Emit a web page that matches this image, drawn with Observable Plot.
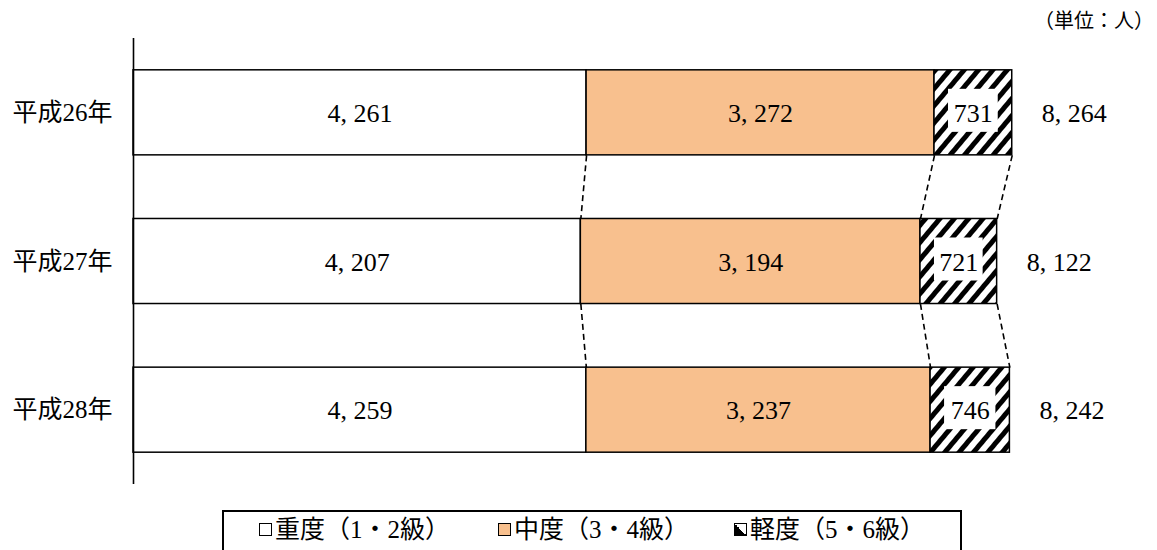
<!DOCTYPE html>
<html>
<head>
<meta charset="utf-8">
<script src="https://cdn.jsdelivr.net/npm/d3@7"></script>
<script src="https://cdn.jsdelivr.net/npm/@observablehq/plot@0.6"></script>
<style>
  html, body { margin: 0; padding: 0; background: #fff; overflow: hidden; }
  #wrap { position: relative; width: 1157px; height: 550px; overflow: hidden; font-family: "Liberation Serif", "Noto Sans CJK JP", serif; color: #000; }
  #unit { position: absolute; right: 3px; top: 5px; font-size: 20px; }
  #legend { position: absolute; left: 222px; top: 510px; width: 736px; height: 60px; border: 2px solid #000; box-sizing: content-box; }
  .item { position: absolute; top: 3px; font-size: 25px; line-height: 30px; white-space: nowrap; }
  .sw { display: inline-block; width: 11px; height: 11px; border: 1.5px solid #000; margin-right: 3px; vertical-align: 2px; }
</style>
</head>
<body>
<div id="wrap">
  <div id="chart"></div>
  <div id="unit">（単位：人）</div>
  <div id="legend"></div>
</div>
<script>
const years = ["平成26年", "平成27年", "平成28年"];
const categories = ["重度（1・2級）", "中度（3・4級）", "軽度（5・6級）"];
const severe = [4261, 4207, 4259];
const moderate = [3272, 3194, 3237];
const mild = [731, 721, 746];
const totals = [8264, 8122, 8242];

const colors = ["#ffffff", "#F8C08E", "url(#hatch)"];
const H = 0.286;
const fmt = v => d3.format(",")(v).replace(",", ", ");

const series = [severe, moderate, mild];
const segs = [];
years.forEach((y, i) => {
  let acc = 0;
  series.forEach((s, c) => {
    segs.push({year: y, i, cat: c, x1: acc, x2: acc + s[i], v: s[i]});
    acc += s[i];
  });
});
const bounds = years.map((y, i) => [severe[i], severe[i] + moderate[i], severe[i] + moderate[i] + mild[i]]);
const links = [];
for (let i = 0; i < years.length - 1; i++) {
  for (let b = 0; b < 3; b++) links.push({x1: bounds[i][b], x2: bounds[i + 1][b], y1: i + H, y2: i + 1 - H});
}
const totalRows = years.map((y, i) => ({i, t: totals[i]}));

const chart = Plot.plot({
  width: 1157,
  height: 490,
  marginLeft: 133,
  marginRight: 67,
  marginTop: 38,
  marginBottom: 6,
  style: {fontFamily: '"Liberation Serif", "Noto Sans CJK JP", serif', background: "white", color: "black"},
  x: {domain: [0, 9000], axis: null},
  y: {domain: [-0.5, 2.5], reverse: true, axis: null},
  marks: [
    ...[0, 1, 2].map(c => Plot.rect(segs.filter(d => d.cat === c), {
      x1: "x1", x2: "x2", y1: d => d.i - H, y2: d => d.i + H,
      fill: colors[c], stroke: "black", strokeWidth: 1.5
    })),
    Plot.rect(segs.filter(d => d.cat === 2), {
      x1: "x1", x2: "x2", y1: d => d.i - H, y2: d => d.i + H,
      fill: "white", insetLeft: 14, insetRight: 14, insetTop: 19, insetBottom: 23
    }),
    Plot.text(segs, {
      x: d => (d.x1 + d.x2) / 2, y: "i", text: d => fmt(d.v),
      fontSize: 26, fill: "black", dy: 1
    }),
    Plot.text(totalRows, {
      x: "t", y: "i", text: d => fmt(d.t), dx: 62, fontSize: 26, fill: "black", dy: 1
    }),
    Plot.link(links, {
      x1: "x1", x2: "x2", y1: "y1", y2: "y2",
      stroke: "black", strokeWidth: 1.6, strokeDasharray: "6,4"
    }),
    Plot.ruleX([0], {stroke: "black", strokeWidth: 1.6}),
    Plot.axisY({
      ticks: [0, 1, 2], tickFormat: i => years[i], tickSize: 0, tickPadding: 21,
      fontSize: 25, label: null
    })
  ]
});

chart.insertAdjacentHTML("afterbegin",
  '<defs><pattern id="hatch" patternUnits="userSpaceOnUse" width="11" height="11" patternTransform="rotate(40)">' +
  '<rect width="11" height="11" fill="white"/><rect width="5" height="11" fill="black"/></pattern></defs>');
document.getElementById("chart").appendChild(chart);

const legend = document.getElementById("legend");
const swatchStyles = ["background:#fff", "background:#F8C08E", "background:linear-gradient(to top right, #000 50%, #fff 50%)"];
const offsets = [35, 274, 510];
categories.forEach((c, k) => {
  const it = document.createElement("div");
  it.className = "item";
  it.style.left = offsets[k] + "px";
  it.innerHTML = '<span class="sw" style="' + swatchStyles[k] + '"></span>' + c;
  legend.appendChild(it);
});
</script>
</body>
</html>
